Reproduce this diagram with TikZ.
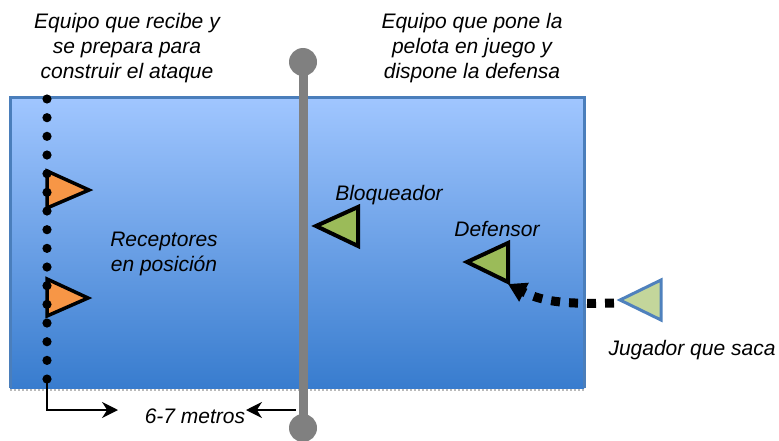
\documentclass[tikz,border=0pt]{standalone}
\usepackage{fontspec}
\setmainfont{Liberation Sans}
\usetikzlibrary{arrows.meta}
\definecolor{courttop}{RGB}{160,198,255}
\definecolor{courtbot}{RGB}{56,124,206}
\definecolor{courtedge}{RGB}{74,126,187}
\definecolor{netgray}{RGB}{128,128,128}
\definecolor{recv}{RGB}{247,150,70}
\definecolor{defg}{RGB}{155,187,89}
\definecolor{srvg}{RGB}{195,214,155}
\definecolor{srvedge}{RGB}{79,129,189}
\tikzset{
  lbl/.style={font=\fontsize{21}{25}\selectfont\itshape, inner sep=0pt, align=center, anchor=base},
  recvtri/.style={fill=recv, draw=black, line width=3.5pt, line join=miter},
  deftri/.style={fill=defg, draw=black, line width=4pt, line join=miter},
  srvtri/.style={fill=srvg, draw=srvedge, line width=3pt, line join=miter},
  measure/.style={draw=black, line width=1.4pt, -{Stealth[length=16pt,width=16pt]}},
}
\begin{document}
\begin{tikzpicture}[x=1pt,y=-1pt]
\useasboundingbox (0,0) rectangle (779,441);
% court
\shade[top color=courttop, bottom color=courtbot] (10,98) rectangle (584,388);
\draw[courtedge, line width=3pt] (10,388) -- (10,98) -- (584,98) -- (584,388);
\draw[gray!55, line width=2pt, dotted] (10,390) -- (584,390);
% net
\draw[netgray, line width=9pt] (303,62) -- (303,428);
\fill[netgray] (303,62) circle (14);
\fill[netgray] (303,428) circle (14);
\coordinate (netfoot) at (296,410);
% receivers
\draw[recvtri] (47,171) -- (89,190) -- (47,208) -- cycle;
\draw[recvtri] (47,279) -- (88,298) -- (47,316) -- cycle;
% dotted attack line
\foreach \i in {0,...,15} {
  \fill[black] (47,{99+\i*18.67}) circle (4.6);
}
\coordinate (lineend) at (47,381);
\coordinate (corner) at (47,410);
\coordinate (leftarrow) at (118,410);
\coordinate (rightarrow) at (246,410);
\draw[measure] (lineend) -- (corner) -- (leftarrow);
\draw[measure] (netfoot) -- (rightarrow);
% blocker, defender, server
\draw[deftri] (316,226) -- (358,207) -- (358,246) -- cycle;
\draw[deftri] (467,262) -- (508,243) -- (508,282) -- cycle;
\draw[srvtri] (620,300) -- (661,280) -- (661,320) -- cycle;
\coordinate (server) at (614,303);
\coordinate (deftarget) at (508,284);
\draw[black, line width=9pt, dash pattern=on 9pt off 9pt, -{Triangle[length=18pt,width=20pt]}]
  (server) .. controls (570,304) and (545,303) .. (deftarget);
% labels
\node[lbl] (t1) at (127,79) {Equipo que recibe y\\se prepara para\\construir el ataque};
\node[lbl] (t2) at (472,79) {Equipo que pone la\\pelota en juego y\\dispone la defensa};
\node[lbl] (t3) at (164,271) {Receptores\\en posición};
\node[lbl] (t4) at (389,200) {Bloqueador};
\node[lbl] (t5) at (497,236) {Defensor};
\node[lbl] (t6) at (692,355) {Jugador que saca};
\node[lbl] (t7) at (195,423) {6-7 metros};
\end{tikzpicture}
\end{document}
